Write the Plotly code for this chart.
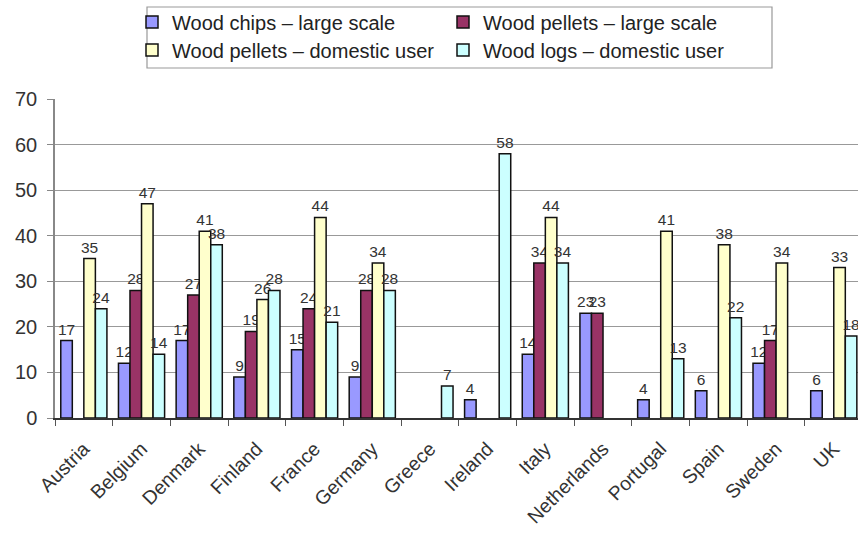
import plotly.graph_objects as go

countries = ["Austria", "Belgium", "Denmark", "Finland", "France", "Germany", "Greece",
             "Ireland", "Italy", "Netherlands", "Portugal", "Spain", "Sweden", "UK"]

chips_large = [17, 12, 17, 9, 15, 9, None, 4, 14, 23, 4, 6, 12, 6]
pellets_large = [None, 28, 27, 19, 24, 28, None, None, 34, 23, None, None, 17, None]
pellets_domestic = [35, 47, 41, 26, 44, 34, None, None, 44, None, 41, 38, 34, 33]
logs_domestic = [24, 14, 38, 28, 21, 28, 7, 58, 34, None, 13, 22, None, 18]

# (name, values, colour, legend row)
series = [
    ("Wood chips – large scale", chips_large, "#9999FF", "legend"),
    ("Wood pellets – large scale", pellets_large, "#993366", "legend"),
    ("Wood pellets – domestic user", pellets_domestic, "#FFFFCC", "legend2"),
    ("Wood logs – domestic user", logs_domestic, "#CCFFFF", "legend2"),
]

FONT = "Arial, Liberation Sans, sans-serif"

# plot area in pixels (used to place the legend rows and frame in paper coordinates)
L, R, T, B = 55, 0, 99, 118
W, H = 858, 536
PW, PH = W - L - R, H - T - B


def px_to_paper(x, y):
    return (x - L) / PW, (H - B - y) / PH


fig = go.Figure()
for name, vals, color, leg in series:
    fig.add_trace(go.Bar(
        name=name, x=countries, y=vals, legend=leg,
        marker=dict(color=color, line=dict(color="#111111", width=1.5)),
        text=[None if v is None else str(v) for v in vals],
        textposition="outside",
        constraintext="none",
        cliponaxis=False,
        textfont=dict(family=FONT, size=15.5, color="#333333"),
    ))

legend_style = dict(
    orientation="h", xanchor="left", yanchor="middle",
    entrywidth=266, entrywidthmode="pixels",
    borderwidth=0, bgcolor="rgba(0,0,0,0)",
    font=dict(family=FONT, size=20, color="#222222"),
    traceorder="normal", itemwidth=30,
)
row1 = px_to_paper(132, 22)
row2 = px_to_paper(132, 50)
fig.update_layout(
    width=W, height=H,
    margin=dict(l=L, r=R, t=T, b=B),
    paper_bgcolor="white", plot_bgcolor="white",
    barmode="group", bargap=0.2, bargroupgap=0,
    font=dict(family=FONT, size=16, color="#333333"),
    showlegend=True,
    legend=dict(x=row1[0], y=row1[1], **legend_style),
    legend2=dict(x=row2[0], y=row2[1], **legend_style),
)

# legend frame
x0, y0 = px_to_paper(147, 68)
x1, y1 = px_to_paper(772, 7)
fig.add_shape(type="rect", xref="paper", yref="paper", x0=x0, y0=y0, x1=x1, y1=y1,
              line=dict(color="#999999", width=1.2), layer="below")

fig.update_xaxes(
    type="category", range=[-0.5, 13.42],
    showline=True, linecolor="#333333", linewidth=1.5,
    ticks="outside", tickson="boundaries", ticklen=6, tickcolor="#555555",
    tickangle=-45, tickfont=dict(family=FONT, size=19.5, color="#333333"),
    ticklabelstandoff=10,
    showgrid=False,
)
fig.update_yaxes(
    range=[0, 70], dtick=10,
    showline=True, linecolor="#888888", linewidth=1.5,
    ticks="outside", ticklen=6, tickcolor="#888888",
    ticklabelstandoff=6,
    showgrid=True, gridcolor="#999999", gridwidth=1.2,
    tickfont=dict(family=FONT, size=20, color="#333333"),
    zeroline=False,
)

fig.write_html("out.html")
